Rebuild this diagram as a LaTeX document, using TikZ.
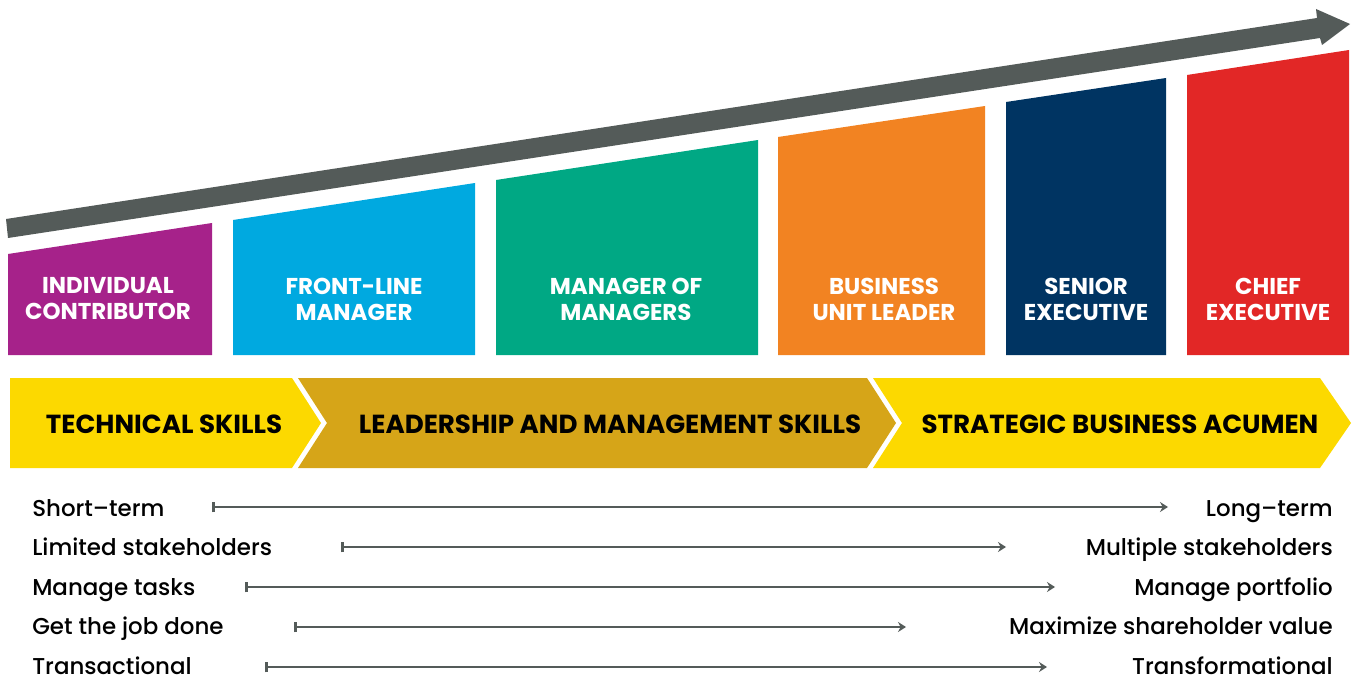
\documentclass[tikz,border=0pt]{standalone}
\usepackage{fontspec}
\setmainfont{Poppins}
\newfontfamily\medfont{Poppins Medium}
\usetikzlibrary{arrows.meta}
\definecolor{cpurple}{HTML}{A6228A}
\definecolor{cblue}{HTML}{00A9E0}
\definecolor{cgreen}{HTML}{00A884}
\definecolor{corange}{HTML}{F28322}
\definecolor{cnavy}{HTML}{003462}
\definecolor{cred}{HTML}{E22726}
\definecolor{cyellow}{HTML}{FCD900}
\definecolor{cgold}{HTML}{D6A518}
\definecolor{cgrey}{HTML}{545B59}
\tikzset{
  boxtext/.style={text=white, font=\fontsize{17.2}{19.5}\selectfont\bfseries, align=center},
  chevtext/.style={text=black, font=\fontsize{19.6}{22}\selectfont\bfseries},
  ltext/.style={text=black, font=\fontsize{17.2}{19}\selectfont\medfont, anchor=base west, inner sep=0pt, text depth=0pt},
  rtext/.style={text=black, font=\fontsize{17.2}{19}\selectfont\medfont, anchor=base east, inner sep=0pt, text depth=0pt},
  rangeline/.style={draw=cgrey, line width=2pt, {Bar[width=8pt,line width=2pt]}-{Stealth[length=6pt,width=7.5pt,inset=2pt]}},
}
\begin{document}
\begin{tikzpicture}[x=0.75pt,y=-0.75pt]
\useasboundingbox (0,0) rectangle (1355,677);
% big arrow
\fill[cgrey] (8,238) -- (1320,38) -- (1322,45) -- (1350,24) -- (1316,9) -- (1317,18) -- (6,219) -- cycle;
% boxes
\fill[cpurple] (8,355) -- (8,254) -- (212,223) -- (212,355) -- cycle;
\fill[cblue] (233,355) -- (233,220) -- (475,183) -- (475,355) -- cycle;
\fill[cgreen] (496,355) -- (496,180) -- (758,140) -- (758,355) -- cycle;
\fill[corange] (778,355) -- (778,137) -- (985,106) -- (985,355) -- cycle;
\fill[cnavy] (1006,355) -- (1006,102) -- (1166,78) -- (1166,355) -- cycle;
\fill[cred] (1187,355) -- (1187,75) -- (1349,50) -- (1349,355) -- cycle;
\node[boxtext] (ic) at (108,299) {INDIVIDUAL\\CONTRIBUTOR};
\node[boxtext] (flm) at (354,299) {FRONT-LINE\\MANAGER};
\node[boxtext] (mom) at (626,299) {MANAGER OF\\MANAGERS};
\node[boxtext] (bul) at (884,299) {BUSINESS\\UNIT LEADER};
\node[boxtext] (se) at (1086,299) {SENIOR\\EXECUTIVE};
\node[boxtext] (ce) at (1268,299) {CHIEF\\EXECUTIVE};
% chevrons
\fill[cyellow] (10,378) -- (292,378) -- (321,423) -- (292,468) -- (10,468) -- cycle;
\fill[cgold] (298,378) -- (867,378) -- (896,423) -- (867,468) -- (298,468) -- (327,423) -- cycle;
\fill[cyellow] (873,378) -- (1320,378) -- (1351,423) -- (1320,468) -- (873,468) -- (902,423) -- cycle;
\node[chevtext] (tech) at (164,424) {TECHNICAL SKILLS};
\node[chevtext] (lead) at (610,424) {LEADERSHIP AND MANAGEMENT SKILLS};
\node[chevtext] (strat) at (1120,424) {STRATEGIC BUSINESS ACUMEN};
% rows
\node[ltext] (l1) at (32,516) {Short–term};
\node[ltext] (l2) at (32,555.5) {Limited stakeholders};
\node[ltext] (l3) at (32,595) {Manage tasks};
\node[ltext] (l4) at (32,634.5) {Get the job done};
\node[ltext] (l5) at (32,674) {Transactional};
\node[rtext] (r1) at (1333,516) {Long–term};
\node[rtext] (r2) at (1333,555.5) {Multiple stakeholders};
\node[rtext] (r3) at (1333,595) {Manage portfolio};
\node[rtext] (r4) at (1333,634.5) {Maximize shareholder value};
\node[rtext] (r5) at (1333,674) {Transformational};
\coordinate (s1) at (212,507); \coordinate (e1) at (1168,507);
\coordinate (s2) at (341,547); \coordinate (e2) at (1006,547);
\coordinate (s3) at (245,587); \coordinate (e3) at (1055,587);
\coordinate (s4) at (294,627); \coordinate (e4) at (906,627);
\coordinate (s5) at (265,667); \coordinate (e5) at (1047,667);
\foreach \i in {1,...,5} { \draw[rangeline] (s\i) -- (e\i); }
\end{tikzpicture}
\end{document}
